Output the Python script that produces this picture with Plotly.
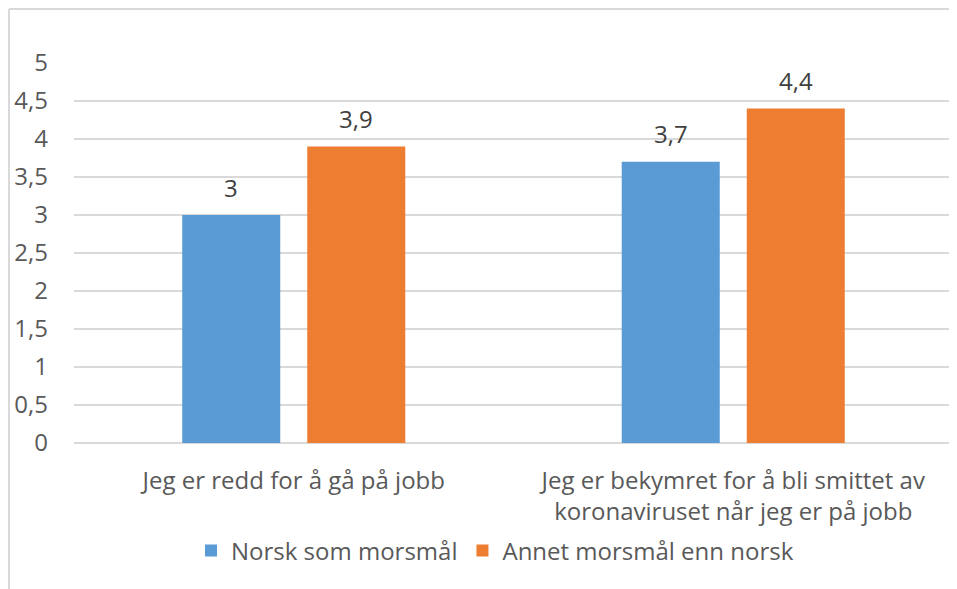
import plotly.graph_objects as go

categories = ["Jeg er redd for å gå på jobb",
              "Jeg er bekymret for å bli smittet av<br>koronaviruset når jeg er på jobb"]
series_names = ["Norsk som morsmål", "Annet morsmål enn norsk"]
norsk = [3.0, 3.7]
annet = [3.9, 4.4]
y_ticks = [0, 0.5, 1, 1.5, 2, 2.5, 3, 3.5, 4, 4.5, 5]

colors = ["#5B9BD5", "#ED7D31"]
FONT = "Open Sans"
TXT = "#595959"
FS = 24

fig = go.Figure()
for name, vals, c in zip(series_names, [norsk, annet], colors):
    fig.add_trace(go.Bar(x=categories, y=vals, name=name, marker_color=c,
                         marker_line_width=0))

# page body has an 8px margin: figure pixel p shows at screen p + 8
OFF = 8
W, H = 957 - OFF, 589 - OFF
L, R, T, B = 74 - OFF, W - (953 - OFF), 63 - OFF, H - (443 - OFF)
pw, ph = W - L - R, H - T - B
cat_w = pw / len(categories)
bargap = 0.431
slot = cat_w * (1 - bargap) / 2

def px2x(p):  # screen px -> paper x
    return (p - OFF - L) / pw

def py2y(p):  # screen px -> paper y
    return (H - B - (p - OFF)) / ph

annotations = []
for i, vals in enumerate([norsk, annet]):
    shift = (i - 0.5) * slot
    for cat, v in zip(categories, vals):
        annotations.append(dict(x=cat, y=v, xref="x", yref="y", text=f"{v:g}".replace(".", ","),
                                showarrow=False, xshift=shift, yshift=28,
                                font=dict(family=FONT, size=FS, color="#404040")))

shapes = [
    dict(type="line", xref="paper", yref="paper", x0=px2x(9), x1=px2x(970), y0=py2y(9), y1=py2y(9),
         line=dict(color="#D9D9D9", width=2)),
    dict(type="line", xref="paper", yref="paper", x0=px2x(9), x1=px2x(9), y0=py2y(9), y1=py2y(600),
         line=dict(color="#D9D9D9", width=2)),
]

fig.update_layout(
    width=W, height=H,
    margin=dict(l=L, r=R, t=T, b=B, autoexpand=False),
    paper_bgcolor="white", plot_bgcolor="white",
    barmode="group", bargap=bargap, bargroupgap=0.216,
    separators=", ",
    font=dict(family=FONT, size=FS, color=TXT),
    showlegend=True,
    legend=dict(orientation="h", x=px2x(495), xanchor="center", y=py2y(551), yanchor="middle",
                font=dict(family=FONT, size=FS, color=TXT), itemclick=False),
    xaxis=dict(showgrid=False, showline=False, ticks="", ticklabelstandoff=21,
               tickfont=dict(family=FONT, size=FS, color=TXT)),
    yaxis=dict(range=[0, 5], tickvals=y_ticks, showgrid=True, gridcolor="#D9D9D9", gridwidth=1.5,
               zeroline=True, zerolinecolor="#D9D9D9", zerolinewidth=1.5, showline=False,
               ticks="", ticklabelstandoff=25, tickfont=dict(family=FONT, size=FS, color=TXT)),
    annotations=annotations,
    shapes=shapes,
)

fig.write_html("out.html")
